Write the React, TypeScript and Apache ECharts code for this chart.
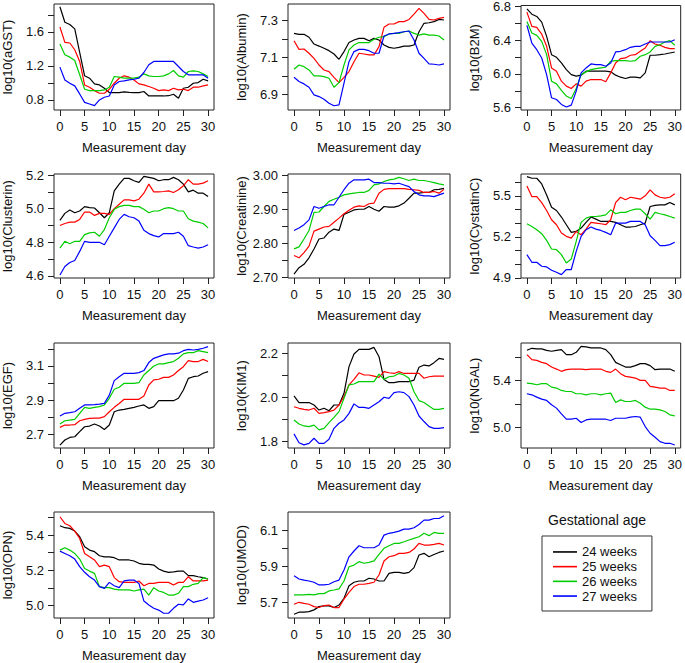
import React, { useEffect, useRef } from 'react';
import * as echarts from 'echarts';

const days = [0,1,2,3,4,5,6,7,8,9,10,11,12,13,14,15,16,17,18,19,20,21,22,23,24,25,26,27,28,29,30];
const dayTicks = [0,5,10,15,20,25,30];
const weeks = ['24 weeks','25 weeks','26 weeks','27 weeks'];

const aGST24 = [1.896,1.714,1.687,1.636,1.36,1.084,1.056,0.99,0.977,0.938,0.887,0.887,0.887,0.895,0.89,0.887,0.887,0.9,0.847,0.847,0.847,0.847,0.85,0.867,0.82,0.938,0.95,0.997,1.005,1.044,1.025];
const aGST25 = [1.659,1.478,1.47,1.391,1.253,0.977,0.95,0.91,0.879,0.879,0.926,0.997,1.056,1.084,1.068,1.036,0.989,0.977,0.958,0.938,0.91,0.918,0.91,0.938,0.918,0.926,0.91,0.95,0.95,0.966,0.977];
const aGST26 = [1.458,1.332,1.304,1.265,1.096,0.926,0.91,0.91,0.91,0.918,0.95,1.076,1.068,1.056,1.056,1.056,1.068,1.107,1.084,1.076,1.076,1.084,1.107,1.147,1.084,1.068,1.135,1.143,1.135,1.107,1.076];
const aGST27 = [1.186,1.036,0.997,0.966,0.871,0.772,0.753,0.733,0.8,0.832,0.847,0.977,1.017,1.025,1.036,1.044,1.056,1.123,1.214,1.253,1.253,1.253,1.253,1.253,1.194,1.135,1.096,1.096,1.096,1.096,1.056];

const albumin24 = [7.231,7.226,7.226,7.21,7.173,7.162,7.15,7.137,7.119,7.09,7.132,7.181,7.195,7.204,7.204,7.191,7.204,7.195,7.168,7.155,7.15,7.155,7.162,7.162,7.168,7.24,7.286,7.289,7.295,7.307,7.304];
const albumin25 = [7.191,7.144,7.146,7.123,7.095,7.059,7.032,7.023,6.992,6.963,6.992,7.023,7.077,7.123,7.119,7.114,7.114,7.159,7.264,7.282,7.282,7.295,7.295,7.307,7.336,7.367,7.34,7.307,7.304,7.313,7.318];
const albumin26 = [7.036,7.059,7.05,7.032,7.0,7.0,6.996,6.987,6.938,6.963,7.059,7.141,7.168,7.181,7.181,7.181,7.199,7.21,7.213,7.228,7.231,7.231,7.24,7.244,7.231,7.222,7.228,7.222,7.222,7.217,7.195];
const albumin27 = [6.992,6.969,6.956,6.938,6.896,6.887,6.873,6.851,6.837,6.842,6.96,7.077,7.132,7.144,7.144,7.137,7.123,7.123,7.217,7.228,7.231,7.235,7.24,7.244,7.195,7.123,7.095,7.065,7.063,7.059,7.065];

const b2m24 = [6.772,6.709,6.682,6.615,6.446,6.229,6.198,6.131,6.052,5.993,5.974,5.986,6.033,6.033,6.033,6.033,6.033,6.025,5.986,5.962,5.946,5.962,5.962,5.954,6.013,6.222,6.222,6.229,6.237,6.249,6.261];
const b2m25 = [6.733,6.564,6.552,6.473,6.328,6.072,6.033,5.915,5.856,5.828,5.883,5.856,5.915,5.934,5.934,5.934,5.907,6.013,6.131,6.182,6.19,6.222,6.229,6.269,6.308,6.395,6.355,6.34,6.316,6.3,6.3];
const b2m26 = [6.623,6.485,6.458,6.387,6.229,5.915,5.883,5.805,5.738,5.71,5.828,5.993,6.025,6.052,6.064,6.072,6.08,6.151,6.159,6.159,6.159,6.151,6.159,6.21,6.229,6.261,6.328,6.347,6.379,6.395,6.34];
const b2m27 = [6.576,6.367,6.288,6.19,5.993,5.718,5.698,5.639,5.608,5.631,5.797,6.013,6.072,6.119,6.111,6.111,6.092,6.131,6.261,6.269,6.288,6.316,6.328,6.328,6.355,6.379,6.379,6.379,6.379,6.379,6.406];

const clusterin24 = [4.93,4.972,4.992,4.976,4.986,5.012,5.006,5.004,4.976,4.946,4.976,5.106,5.146,5.18,5.18,5.166,5.156,5.192,5.186,5.18,5.166,5.172,5.172,5.186,5.172,5.146,5.1,5.11,5.092,5.092,5.072];
const clusterin25 = [4.9,4.912,4.92,4.92,4.936,4.98,4.98,4.96,4.972,4.972,4.966,5.0,5.026,5.052,5.052,5.046,5.056,5.092,5.146,5.1,5.1,5.102,5.106,5.096,5.112,5.136,5.172,5.146,5.146,5.152,5.166];
const clusterin26 = [4.766,4.806,4.792,4.806,4.806,4.846,4.856,4.86,4.836,4.876,4.946,4.996,5.012,5.02,5.02,5.012,5.012,4.996,4.976,4.986,4.986,5.0,5.006,5.0,4.986,4.986,4.94,4.926,4.92,4.912,4.886];
const clusterin27 = [4.606,4.656,4.68,4.692,4.746,4.806,4.8,4.8,4.8,4.786,4.836,4.886,4.936,4.966,4.952,4.946,4.926,4.872,4.852,4.84,4.832,4.852,4.852,4.852,4.86,4.836,4.78,4.772,4.766,4.772,4.786];

const creatinine24 = [2.71,2.729,2.739,2.758,2.784,2.813,2.816,2.833,2.842,2.838,2.885,2.891,2.898,2.9,2.9,2.908,2.9,2.894,2.908,2.906,2.906,2.91,2.918,2.932,2.947,2.947,2.949,2.949,2.957,2.958,2.961];
const creatinine25 = [2.765,2.758,2.773,2.792,2.836,2.842,2.848,2.85,2.862,2.874,2.887,2.897,2.906,2.91,2.908,2.916,2.918,2.947,2.958,2.96,2.96,2.96,2.96,2.958,2.957,2.955,2.949,2.949,2.952,2.947,2.958];
const creatinine26 = [2.784,2.79,2.813,2.838,2.891,2.892,2.908,2.923,2.929,2.935,2.942,2.945,2.947,2.949,2.949,2.955,2.971,2.974,2.981,2.986,2.988,2.993,2.989,2.984,2.988,2.984,2.984,2.981,2.978,2.974,2.971];
const creatinine27 = [2.838,2.845,2.855,2.869,2.908,2.903,2.908,2.913,2.913,2.935,2.957,2.976,2.986,2.986,2.986,2.988,2.978,2.978,2.976,2.976,2.974,2.976,2.971,2.966,2.952,2.942,2.939,2.939,2.937,2.942,2.947];

const cystatin24 = [5.641,5.629,5.629,5.587,5.507,5.417,5.393,5.345,5.289,5.233,5.24,5.264,5.306,5.345,5.33,5.313,5.313,5.313,5.306,5.289,5.272,5.272,5.276,5.289,5.301,5.422,5.43,5.434,5.434,5.451,5.434];
const cystatin25 = [5.573,5.495,5.495,5.451,5.393,5.325,5.289,5.228,5.204,5.191,5.24,5.216,5.257,5.306,5.301,5.296,5.289,5.325,5.451,5.49,5.471,5.49,5.483,5.476,5.5,5.544,5.507,5.49,5.483,5.49,5.515];
const cystatin26 = [5.296,5.276,5.252,5.223,5.174,5.111,5.106,5.07,5.009,5.038,5.167,5.306,5.337,5.349,5.349,5.354,5.361,5.398,5.369,5.379,5.379,5.393,5.403,5.403,5.369,5.33,5.379,5.369,5.361,5.349,5.337];
const cystatin27 = [5.07,5.014,5.014,4.985,4.98,4.956,4.941,4.924,4.961,4.961,5.094,5.204,5.252,5.272,5.257,5.247,5.233,5.216,5.301,5.301,5.301,5.313,5.313,5.313,5.289,5.208,5.174,5.136,5.136,5.143,5.16];

const egf24 = [2.635,2.665,2.68,2.684,2.714,2.743,2.747,2.759,2.747,2.727,2.753,2.831,2.841,2.845,2.851,2.857,2.865,2.871,2.851,2.861,2.896,2.896,2.896,2.896,2.91,2.959,3.027,3.037,3.041,3.057,3.067];
const egf25 = [2.739,2.753,2.753,2.755,2.778,2.786,2.792,2.794,2.794,2.802,2.831,2.857,2.88,2.904,2.904,2.904,2.904,2.924,2.988,3.018,3.022,3.033,3.033,3.047,3.073,3.096,3.131,3.126,3.126,3.139,3.126];
const egf26 = [2.759,2.778,2.782,2.786,2.822,2.857,2.851,2.857,2.861,2.871,2.91,2.963,2.975,2.998,2.998,2.998,3.002,3.047,3.073,3.1,3.112,3.112,3.12,3.126,3.145,3.171,3.178,3.178,3.19,3.184,3.178];
const egf27 = [2.806,2.822,2.826,2.831,2.851,2.871,2.871,2.873,2.876,2.88,2.929,3.014,3.037,3.057,3.057,3.057,3.061,3.073,3.12,3.145,3.155,3.165,3.171,3.171,3.175,3.19,3.198,3.194,3.198,3.204,3.214];

const kim24 = [2.007,1.977,1.977,1.977,1.966,1.943,1.951,1.94,1.966,1.966,2.019,2.14,2.197,2.218,2.218,2.218,2.227,2.185,2.082,2.067,2.067,2.072,2.072,2.072,2.079,2.137,2.147,2.143,2.158,2.177,2.173];
const kim25 = [1.958,1.951,1.946,1.943,1.951,1.928,1.931,1.936,1.943,1.966,2.004,2.057,2.082,2.112,2.102,2.102,2.097,2.091,2.117,2.112,2.109,2.117,2.109,2.109,2.109,2.109,2.087,2.094,2.097,2.097,2.097];
const kim26 = [1.898,1.88,1.871,1.868,1.875,1.853,1.86,1.886,1.91,1.936,1.996,2.057,2.061,2.072,2.072,2.072,2.072,2.106,2.082,2.094,2.097,2.109,2.102,2.087,2.026,1.986,1.977,1.961,1.946,1.946,1.951];
const kim27 = [1.835,1.795,1.785,1.792,1.815,1.792,1.792,1.811,1.86,1.883,1.898,1.928,1.971,1.955,1.955,1.951,1.966,1.981,2.001,1.996,2.022,2.026,2.022,2.004,1.966,1.916,1.891,1.868,1.86,1.86,1.863];

const ngal24 = [5.655,5.672,5.667,5.667,5.655,5.647,5.655,5.661,5.618,5.618,5.638,5.689,5.684,5.675,5.675,5.675,5.661,5.618,5.553,5.533,5.513,5.513,5.525,5.542,5.542,5.525,5.491,5.496,5.496,5.496,5.477];
const ngal25 = [5.618,5.576,5.57,5.553,5.542,5.513,5.496,5.477,5.491,5.496,5.496,5.496,5.491,5.496,5.496,5.496,5.477,5.468,5.496,5.457,5.434,5.428,5.42,5.4,5.4,5.349,5.343,5.335,5.335,5.315,5.315];
const ngal26 = [5.377,5.372,5.363,5.372,5.372,5.343,5.335,5.315,5.306,5.306,5.287,5.287,5.278,5.287,5.287,5.278,5.287,5.292,5.213,5.235,5.221,5.221,5.23,5.207,5.173,5.156,5.156,5.15,5.136,5.108,5.099];
const ngal27 = [5.287,5.278,5.258,5.241,5.23,5.193,5.165,5.116,5.071,5.071,5.079,5.043,5.065,5.071,5.071,5.071,5.071,5.06,5.079,5.079,5.079,5.088,5.094,5.088,5.009,4.952,4.918,4.881,4.867,4.867,4.852];

const opn24 = [5.453,5.442,5.438,5.423,5.391,5.334,5.315,5.306,5.283,5.277,5.277,5.272,5.259,5.259,5.259,5.253,5.24,5.234,5.234,5.23,5.208,5.196,5.189,5.192,5.196,5.196,5.17,5.17,5.164,5.159,5.151];
const opn25 = [5.504,5.466,5.453,5.423,5.381,5.296,5.277,5.259,5.221,5.23,5.221,5.159,5.136,5.132,5.132,5.132,5.14,5.113,5.126,5.126,5.132,5.132,5.132,5.117,5.132,5.132,5.164,5.14,5.14,5.14,5.145];
const opn26 = [5.315,5.328,5.315,5.296,5.264,5.211,5.196,5.183,5.108,5.102,5.102,5.094,5.089,5.089,5.089,5.083,5.089,5.094,5.06,5.102,5.083,5.075,5.06,5.06,5.07,5.108,5.108,5.121,5.126,5.159,5.151];
const opn27 = [5.309,5.296,5.283,5.264,5.221,5.189,5.164,5.145,5.108,5.098,5.132,5.113,5.102,5.14,5.145,5.145,5.126,5.026,5.004,4.985,4.975,4.957,4.957,4.985,5.008,5.004,5.038,5.019,5.026,5.032,5.045];

const umod24 = [5.634,5.645,5.645,5.648,5.658,5.676,5.68,5.68,5.671,5.685,5.722,5.792,5.811,5.818,5.818,5.833,5.829,5.818,5.818,5.86,5.866,5.866,5.86,5.866,5.892,5.962,5.971,5.952,5.965,5.976,5.984];
const umod25 = [5.689,5.7,5.694,5.689,5.676,5.671,5.682,5.685,5.671,5.671,5.718,5.755,5.787,5.8,5.8,5.805,5.811,5.851,5.929,5.952,5.958,5.971,5.971,5.976,5.995,6.026,6.017,6.017,6.021,6.026,6.017];
const umod26 = [5.741,5.741,5.741,5.744,5.741,5.748,5.748,5.763,5.768,5.774,5.818,5.897,5.906,5.925,5.916,5.921,5.929,5.965,5.999,6.013,6.026,6.026,6.035,6.045,6.054,6.063,6.082,6.069,6.087,6.082,6.082];
const umod27 = [5.847,5.829,5.823,5.818,5.811,5.796,5.796,5.8,5.814,5.823,5.879,5.952,5.984,6.013,6.002,6.002,6.002,6.017,6.072,6.082,6.087,6.094,6.105,6.105,6.113,6.131,6.155,6.155,6.164,6.164,6.179];

// y-axis ticks and labelled ticks
const aGSTTicks = [0.8,1.0,1.2,1.4,1.6,1.8];
const aGSTLabels = [0.8,1.2,1.6];
const albuminTicks = [6.9,7.0,7.1,7.2,7.3];
const albuminLabels = [6.9,7.1,7.3];
const b2mTicks = [5.6,5.8,6.0,6.2,6.4,6.6,6.8];
const b2mLabels = [5.6,6.0,6.4,6.8];
const clusterinTicks = [4.6,4.7,4.8,4.9,5.0,5.1,5.2];
const clusterinLabels = [4.6,4.8,5.0,5.2];
const creatinineTicks = [2.70,2.75,2.80,2.85,2.90,2.95,3.00];
const creatinineLabels = [2.70,2.80,2.90,3.00];
const cystatinTicks = [4.9,5.0,5.1,5.2,5.3,5.4,5.5,5.6];
const cystatinLabels = [4.9,5.2,5.5];
const egfTicks = [2.7,2.8,2.9,3.0,3.1,3.2];
const egfLabels = [2.7,2.9,3.1];
const kimTicks = [1.8,1.9,2.0,2.1,2.2];
const kimLabels = [1.8,2.0,2.2];
const ngalTicks = [5.0,5.2,5.4,5.6];
const ngalLabels = [5.0,5.4];
const opnTicks = [5.0,5.1,5.2,5.3,5.4,5.5];
const opnLabels = [5.0,5.2,5.4];
const umodTicks = [5.7,5.8,5.9,6.0,6.1];
const umodLabels = [5.7,5.9,6.1];

const panels = [
  { name: 'log10(aGST)', series: [aGST24, aGST25, aGST26, aGST27], min: 0.682, max: 1.929, ticks: aGSTTicks, labels: aGSTLabels, dec: 1 },
  { name: 'log10(Albumin)', series: [albumin24, albumin25, albumin26, albumin27], min: 6.814, max: 7.391, ticks: albuminTicks, labels: albuminLabels, dec: 1 },
  { name: 'log10(B2M)', series: [b2m24, b2m25, b2m26, b2m27], min: 5.573, max: 6.812, ticks: b2mTicks, labels: b2mLabels, dec: 1 },
  { name: 'log10(Clusterin)', series: [clusterin24, clusterin25, clusterin26, clusterin27], min: 4.588, max: 5.206, ticks: clusterinTicks, labels: clusterinLabels, dec: 1 },
  { name: 'log10(Creatinine)', series: [creatinine24, creatinine25, creatinine26, creatinine27], min: 2.699, max: 3.003, ticks: creatinineTicks, labels: creatinineLabels, dec: 2 },
  { name: 'log10(CystatinC)', series: [cystatin24, cystatin25, cystatin26, cystatin27], min: 4.899, max: 5.66, ticks: cystatinTicks, labels: cystatinLabels, dec: 1 },
  { name: 'log10(EGF)', series: [egf24, egf25, egf26, egf27], min: 2.618, max: 3.235, ticks: egfTicks, labels: egfLabels, dec: 1 },
  { name: 'log10(KIM1)', series: [kim24, kim25, kim26, kim27], min: 1.771, max: 2.247, ticks: kimTicks, labels: kimLabels, dec: 1 },
  { name: 'log10(NGAL)', series: [ngal24, ngal25, ngal26, ngal27], min: 4.827, max: 5.717, ticks: ngalTicks, labels: ngalLabels, dec: 1 },
  { name: 'log10(OPN)', series: [opn24, opn25, opn26, opn27], min: 4.93, max: 5.531, ticks: opnTicks, labels: opnLabels, dec: 1 },
  { name: 'log10(UMOD)', series: [umod24, umod25, umod26, umod27], min: 5.613, max: 6.2, ticks: umodTicks, labels: umodLabels, dec: 1 },
];

const colors = ['#000000', '#FF0000', '#00CD00', '#0000FF'];
const FONT = '"Liberation Sans", Arial, Helvetica, sans-serif';
const TEXT = '#111111';
const LINE = '#222222';
const colLeft = [52, 288, 521];
const rowTop = [4, 174, 343, 512];
const rowH = [106, 104, 105, 106];
const GRID_W = 162;

export default function App() {
  const ref = useRef<HTMLDivElement>(null);
  useEffect(() => {
    if (!ref.current) return;
    const chart = echarts.init(ref.current, null, { renderer: 'svg' });
    const grid = panels.map((_, i) => ({
      left: colLeft[i % 3],
      top: rowTop[Math.floor(i / 3)],
      width: GRID_W,
      height: rowH[Math.floor(i / 3)],
      show: true,
      borderColor: LINE,
      borderWidth: 1,
      backgroundColor: 'transparent',
    }));
    const xAxis = panels.map((_, i) => ({
      gridIndex: i,
      type: 'value',
      min: -1.2,
      max: 31.2,
      name: 'Measurement day',
      nameLocation: 'middle',
      nameGap: 31,
      nameTextStyle: { fontSize: 13, color: TEXT, fontFamily: FONT },
      axisLine: { show: false, onZero: false },
      axisTick: { show: true, customValues: dayTicks, length: 6, lineStyle: { color: LINE, width: 1 } },
      axisLabel: { customValues: dayTicks, fontSize: 13, margin: 10, color: TEXT, fontFamily: FONT },
      splitLine: { show: false },
    }));
    const yAxis = panels.map((p, i) => ({
      gridIndex: i,
      type: 'value',
      min: p.min,
      max: p.max,
      name: p.name,
      nameLocation: 'middle',
      nameRotate: 90,
      nameGap: 40,
      nameTextStyle: { fontSize: 13, color: TEXT, fontFamily: FONT },
      axisLine: { show: false, onZero: false },
      axisTick: { show: true, customValues: p.ticks, length: 6, lineStyle: { color: LINE, width: 1 } },
      axisLabel: {
        customValues: p.labels,
        fontSize: 13,
        margin: 10,
        color: TEXT,
        fontFamily: FONT,
        formatter: (v: number) => v.toFixed(p.dec),
      },
      splitLine: { show: false },
    }));
    const series: any[] = [];
    panels.forEach((p, i) => {
      p.series.forEach((vals, k) => {
        series.push({
          type: 'line',
          name: weeks[k],
          xAxisIndex: i,
          yAxisIndex: i,
          data: days.map((d, j) => [d, vals[j]]),
          showSymbol: false,
          symbol: 'none',
          lineStyle: { width: 1.2, color: colors[k] },
          itemStyle: { color: colors[k] },
          silent: true,
        });
      });
    });
    chart.setOption({
      animation: false,
      backgroundColor: '#ffffff',
      title: {
        text: 'Gestational age',
        left: 548,
        top: 513,
        padding: 0,
        textStyle: { fontSize: 14, fontWeight: 'normal', color: TEXT, fontFamily: FONT },
      },
      legend: {
        data: weeks,
        orient: 'vertical',
        left: 542,
        top: 536,
        icon: 'rect',
        itemWidth: 24,
        itemHeight: 1.6,
        itemGap: 0,
        padding: [8.6, 15, 7.6, 11],
        borderColor: '#333333',
        borderWidth: 1,
        selectedMode: false,
        textStyle: { fontSize: 13, lineHeight: 14.7, color: TEXT, fontFamily: FONT },
      },
      grid,
      xAxis,
      yAxis,
      series,
    });
    return () => chart.dispose();
  }, []);
  return <div ref={ref} style={{ position: 'absolute', left: 0, top: 0, width: 685, height: 663 }} />;
}
